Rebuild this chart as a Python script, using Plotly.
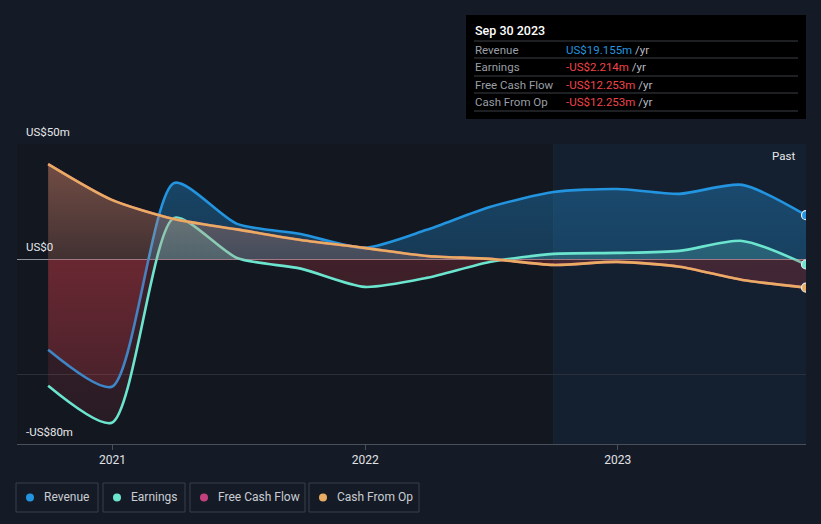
import plotly.graph_objects as go

# ---------------- data (US$ m, trailing twelve months) ----------------
dates = ["2020-09-30", "2020-12-31", "2021-03-31", "2021-06-30", "2021-09-30",
         "2021-12-31", "2022-03-31", "2022-06-30", "2022-09-30", "2022-12-31",
         "2023-03-31", "2023-06-30", "2023-09-30"]
revenue = [-39.2, -55.2, 33.1, 15.4, 11.0, 5.0, 12.8, 22.7, 29.2, 30.5, 28.4, 32.3, 19.155]
earnings = [-54.8, -70.8, 18.0, 0.6, -4.0, -11.9, -8.0, -1.1, 2.4, 2.8, 3.7, 8.0, -2.214]
free_cash_flow = [41.3, 25.8, 17.5, 13.0, 8.4, 5.0, 1.5, 0.2, -2.4, -1.1, -3.2, -8.9, -12.253]
cash_from_op = [41.3, 25.8, 17.5, 13.0, 8.4, 5.0, 1.5, 0.2, -2.4, -1.1, -3.2, -8.9, -12.253]

series_names = ["Revenue", "Earnings", "Free Cash Flow", "Cash From Op"]
series_colors = ["#2394df", "#6ce5cf", "#c3407f", "#e8ac62"]
tick_vals = ["2021-01-01", "2022-01-01", "2023-01-01"]
tick_text = ["2021", "2022", "2023"]
y_min, y_max = -80, 50
tooltip_title = "Sep 30 2023"
tooltip_rows = [("Revenue", "US$19.155m", "#2394df"),
                ("Earnings", "-US$2.214m", "#f0444a"),
                ("Free Cash Flow", "-US$12.253m", "#f0444a"),
                ("Cash From Op", "-US$12.253m", "#f0444a")]

# ---------------- layout geometry ----------------
W_PX, H_PX = 821, 524
L, R, T, B = 17, 806, 144, 444
PW, PH = R - L, B - T


def px(x):
    return (x - L) / PW


def py(y):
    return (B - y) / PH


def rgba(hexc, a):
    h = hexc.lstrip("#")
    r, g, b = int(h[0:2], 16), int(h[2:4], 16), int(h[4:6], 16)
    return f"rgba({r},{g},{b},{a})"


RED = "#d23c46"
z = (0 - y_min) / (y_max - y_min)

fig = go.Figure()

fill_alpha = {"Revenue": (0.28, 0.40), "Earnings": (0.18, 0.35),
              "Free Cash Flow": (0.10, 0.25), "Cash From Op": (0.15, 0.35)}
neg_alpha = {"Revenue": (0.12, 0.28), "Earnings": (0.10, 0.24),
             "Free Cash Flow": (0.05, 0.12), "Cash From Op": (0.05, 0.14)}

all_vals = [revenue, earnings, free_cash_flow, cash_from_op]
for name, col, vals in zip(series_names, series_colors, all_vals):
    pa0, pa1 = fill_alpha[name]
    na0, na1 = neg_alpha[name]
    fig.add_trace(go.Scatter(
        x=dates, y=vals, name=name, mode="lines",
        line=dict(color=col, width=2.6, shape="spline", smoothing=0.7),
        fill="tozeroy",
        fillgradient=dict(
            type="vertical", start=y_min, stop=y_max,
            colorscale=[[0, rgba(RED, na0)], [z - 0.0005, rgba(RED, na1)],
                        [z + 0.0005, rgba(col, pa0)], [1, rgba(col, pa1)]]),
        hoverinfo="skip", showlegend=False))

for name, col, vals in zip(series_names, series_colors, all_vals):
    if name == "Free Cash Flow":
        continue
    fig.add_trace(go.Scatter(
        x=[dates[-1]], y=[vals[-1]], mode="markers",
        marker=dict(color=col, size=9, line=dict(color="#e8eef5", width=1.2)),
        hoverinfo="skip", showlegend=False))

shapes = []
# past region shading
shapes.append(dict(type="rect", xref="x", yref="paper", x0="2022-09-30", x1=dates[-1],
                   y0=0, y1=1, fillcolor="rgba(40,120,190,0.10)", line=dict(width=0),
                   layer="below"))
shapes.append(dict(type="line", xref="x", yref="paper", x0="2022-09-30", x1="2022-09-30",
                   y0=0, y1=1, line=dict(color="rgba(255,255,255,0.04)", width=1),
                   layer="below"))

# tooltip box
shapes.append(dict(type="rect", xref="paper", yref="paper", x0=px(466), x1=px(806),
                   y0=py(119), y1=py(15), fillcolor="#000000", line=dict(width=0)))
for sy in [41, 58, 76, 93, 111]:
    shapes.append(dict(type="line", xref="paper", yref="paper", x0=px(474), x1=px(798),
                       y0=py(sy), y1=py(sy), line=dict(color="#3b3f46", width=1)))

# legend boxes
legend_boxes = [(16, 82), (103, 82), (190, 115), (309, 110)]
for (bx, bw), col in zip(legend_boxes, series_colors):
    shapes.append(dict(type="rect", xref="paper", yref="paper", x0=px(bx), x1=px(bx + bw),
                       y0=py(512), y1=py(483), fillcolor="rgba(0,0,0,0)",
                       line=dict(color="#3a404a", width=1)))
    shapes.append(dict(type="circle", xref="paper", yref="paper", x0=px(bx + 10),
                       x1=px(bx + 18), y0=py(501.5), y1=py(493.5), fillcolor=col,
                       line=dict(width=0)))

annotations = []
annotations.append(dict(xref="paper", yref="paper", x=px(473), y=py(31), text=tooltip_title,
                        showarrow=False, xanchor="left", yanchor="middle",
                        font=dict(color="#ffffff", size=12.5, family="Roboto", weight=500)))
for i, (lab, val, vcol) in enumerate(tooltip_rows):
    ry = 49.5 + i * 17.5
    annotations.append(dict(xref="paper", yref="paper", x=px(473), y=py(ry), text=lab,
                            showarrow=False, xanchor="left", yanchor="middle",
                            font=dict(color="#9a9ea6", size=11.5, family="Roboto")))
    annotations.append(dict(xref="paper", yref="paper", x=px(564), y=py(ry),
                            text=f"<span style='color:{vcol}'>{val}</span> /yr",
                            showarrow=False, xanchor="left", yanchor="middle",
                            font=dict(color="#b8bcc2", size=11.5, family="Roboto")))

for lbl, yy in [("US$50m", 132), ("US$0", 247), ("-US$80m", 432)]:
    annotations.append(dict(xref="paper", yref="paper", x=px(24), y=py(yy), text=lbl,
                            showarrow=False, xanchor="left", yanchor="middle",
                            font=dict(color="#e6e8eb", size=11.5, family="Roboto")))

annotations.append(dict(xref="paper", yref="paper", x=px(797), y=py(156), text="Past",
                        showarrow=False, xanchor="right", yanchor="middle",
                        font=dict(color="#e6e8eb", size=11.5, family="Roboto")))

for (bx, bw), name in zip(legend_boxes, series_names):
    annotations.append(dict(xref="paper", yref="paper", x=px(bx + 26), y=py(497.5), text=name,
                            showarrow=False, xanchor="left", yanchor="middle",
                            font=dict(color="#c9cdd3", size=12, family="Roboto")))

fig.update_layout(
    width=W_PX, height=H_PX,
    margin=dict(l=L, r=W_PX - R, t=T, b=H_PX - B, pad=0),
    paper_bgcolor="#151b26", plot_bgcolor="#121720",
    showlegend=False,
    shapes=shapes, annotations=annotations,
    xaxis=dict(type="date", range=["2020-08-16", dates[-1]], tickvals=tick_vals,
               ticktext=tick_text, ticks="outside", ticklen=5, tickcolor="#4a505a",
               showgrid=False, showline=True, linecolor="#4a505a", linewidth=1,
               zeroline=False, tickfont=dict(color="#e0e2e6", size=12, family="Roboto"),
               fixedrange=True),
    yaxis=dict(range=[y_min, y_max], tickvals=[-50, 0, 50], showticklabels=False,
               showgrid=True, gridcolor="#2a303a", gridwidth=1,
               zeroline=True, zerolinecolor="#8d929b", zerolinewidth=1,
               showline=False, fixedrange=True),
)

fig.write_html("out.html")
